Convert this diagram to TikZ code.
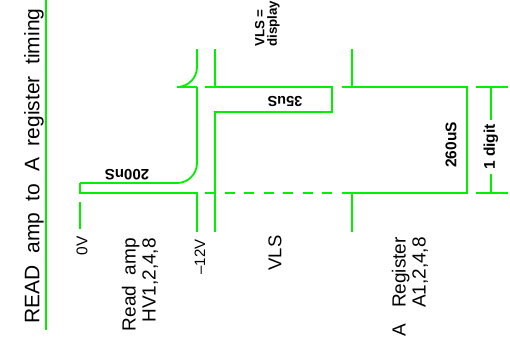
\documentclass[tikz,border=0pt]{standalone}
\usepackage{fontspec}
\setmainfont{Liberation Sans}
\usepackage{tikz}
\definecolor{trace}{RGB}{0,240,0}

\begin{document}
\begin{tikzpicture}[
  x=1pt, y=-1pt,
  wave/.style={draw=trace, line width=1.8pt},
  ref/.style={wave, dash pattern=on 10pt off 9.5pt, dash phase=11.5pt},
  lab/.style={inner sep=0pt, rotate=90, font=\fontsize{19}{20}\selectfont},
  tag/.style={inner sep=0pt, font=\bfseries\fontsize{14.5}{14}\selectfont}
]
\useasboundingbox (0,0) rectangle (510,360);

% title
\node[lab, font=\fontsize{21}{22}\selectfont] (title) at (34,166)
  {READ\ \ amp\ \ to\ \ A\ \ register\ \ timing};
\draw[wave] (46,0) -- (46,330);

% time references
\draw[ref] (197,87) -- (352,87);
\draw[ref] (197,193) -- (352,193);

% read amp
\draw[wave] (80,202) -- (80,229);
\draw[wave, rounded corners=20pt] (197,49) -- (197,87) -- (177,87);
\draw[wave] (177,87) -- (197,87);
\draw[wave, rounded corners=20pt] (197,87) -- (197,183) -- (80,183);
\draw[wave] (80,183) -- (80,193) -- (197,193) -- (197,232);
\node[tag, rotate=180, font=\bfseries\fontsize{15}{15}\selectfont] (t200) at (127,175) {200nS};

% VLS
\draw[wave] (215,49) -- (215,87) -- (332,87) -- (332,112) -- (215,112) -- (215,232);
\node[tag, rotate=180] (t35) at (285,101) {35uS};

% A register
\draw[wave] (352,49) -- (352,87) -- (467,87) -- (467,193) -- (352,193) -- (352,232);
\node[tag, rotate=90, font=\bfseries\fontsize{15.5}{16}\selectfont] (t260) at (451,145) {260uS};

% one digit
\draw[wave] (476,87) -- (508,87);
\draw[wave] (476,193) -- (508,193);
\node[tag, rotate=90, inner xsep=4pt, font=\bfseries\fontsize{15.5}{16}\selectfont] (digit) at (491,147) {1 digit};
\draw[wave] (491,87) -- (digit.east);
\draw[wave] (digit.west) -- (491,193);

% legend
\node[tag, rotate=90, anchor=north west, align=left, font=\bfseries\fontsize{13.3}{12.5}\selectfont] (vlsdef) at (255,47)
  {VLS =\\display};

% signal names
\node[lab, font=\fontsize{15.5}{16}\selectfont] (zerov) at (82,246) {0V};
\node[lab, font=\fontsize{15}{15}\selectfont] (minusv) at (200,257) {--12V};
\node[lab, font=\fontsize{18.5}{19}\selectfont] (vls) at (275,253) {VLS};
\node[lab, align=right, anchor=east] (readamp) at (140,238) {Read\ \ amp\\HV1,2,4,8};
\node[lab, align=right, anchor=east] (areg) at (410,237) {A\ \ \ Register\\A1,2,4,8};
\end{tikzpicture}
\end{document}
